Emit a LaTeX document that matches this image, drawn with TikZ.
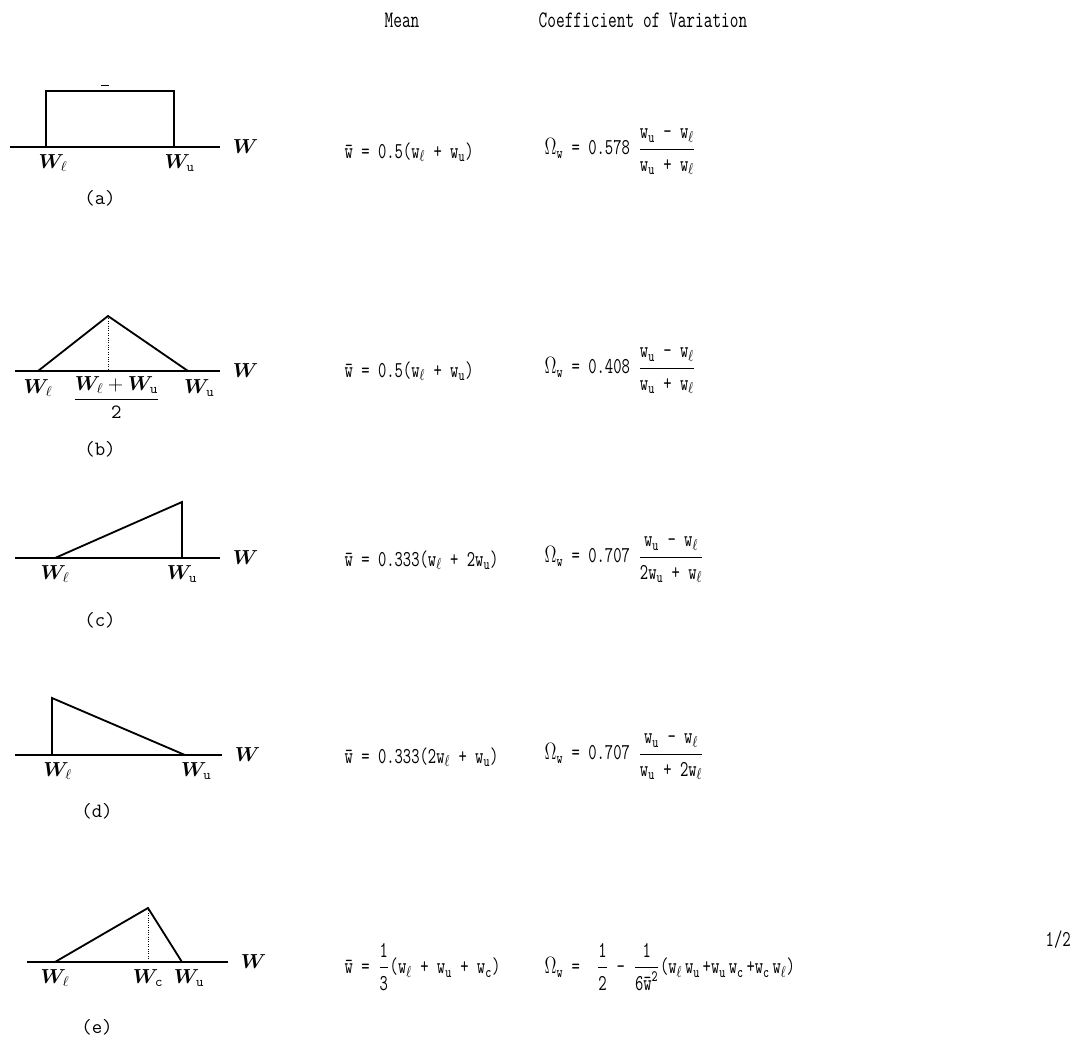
\documentclass[tikz,border=0pt]{standalone}
\usepackage{amsmath,bm,graphicx}
\usetikzlibrary{positioning}

\newcommand{\ws}[1]{w$_{#1}$}
\newcommand{\su}{\texttt{u}}
\newcommand{\scc}{\texttt{c}}
\newcommand{\mwbar}{\={w}}
\newcommand{\WW}{\bm{W}}
\newcommand{\ttfrac}[2]{$\dfrac{\text{\ttfamily #1}}{\text{\ttfamily #2}}$}
\newcommand{\tall}[1]{\scalebox{1}[1.4]{#1}}

\begin{document}
\begin{tikzpicture}[
        x=0.025cm, y=-0.025cm,
        axis/.style={line width=2.1pt},
        pdf/.style={line width=1.3pt, line join=miter},
        guide/.style={densely dotted, line width=0.7pt},
        var/.style={font=\Large, inner sep=1pt},
        tag/.style={font=\Large\ttfamily, inner sep=1pt},
        head/.style={font=\large\ttfamily, inner sep=1pt},
        formula/.style={font=\fontsize{11.5}{14}\selectfont\ttfamily, anchor=west, inner sep=1pt}
    ]
        \useasboundingbox (0,0) rectangle (1079,1040);
        % column heads
        \node[head] (mean) at (402,20) {\tall{Mean}};
        \node[head] (cov) at (643,20) {\tall{Coefficient of Variation}};

        % (a) uniform
        \coordinate (a0) at (10,147);
        \coordinate (a1) at (220,147);
        \coordinate (al) at (46,147);
        \coordinate (au) at (174,147);
        \coordinate (alt) at (46,91);
        \coordinate (aut) at (174,91);
        \coordinate (am0) at (101,85);
        \coordinate (am1) at (109,85);
        \draw[axis] (a0) -- (a1);
        \draw[pdf] (al) -- (alt) -- (aut) -- (au);
        \draw[line width=0.5pt] (am0) -- (am1);
        \node[var, right=8pt of a1] (aw) {$\WW$};
        \node[var, below=4pt of al, xshift=5pt] (alab) {$\WW_{\ell}$};
        \node[var, below=4pt of au, xshift=4pt] (aulab) {$\WW_{\mathtt{u}}$};
        \node[tag] (atag) at (100,198) {(a)};
        \node[formula] (amean) at (343,152) {\tall{\mwbar{} = 0.5(\ws{\ell} + \ws{\su})}};
        \node[formula] (acov) at (543,152) {\tall{$\Omega$$_{\texttt{w}}$ = 0.578 \ttfrac{w$_{\su}$ - w$_{\ell}$}{w$_{\su}$ + w$_{\ell}$}}};

        % (b) symmetric triangle
        \coordinate (b0) at (15,371);
        \coordinate (b1) at (220,371);
        \coordinate (bl) at (38,371);
        \coordinate (bu) at (188,371);
        \coordinate (bc) at (108,316);
        \coordinate (bm) at (108,371);
        \draw[axis] (b0) -- (b1);
        \draw[pdf] (bl) -- (bc) -- (bu);
        \draw[guide] (bc) -- (bm);
        \node[var, below=5pt of bl] (bllab) {$\WW_{\ell}$};
        \node[var, below=5pt of bu, xshift=8pt] (bulab) {$\WW_{\mathtt{u}}$};
        \node[var, below=3pt of bm, xshift=6pt] (bmlab) {$\dfrac{\WW_{\ell}+\WW_{\mathtt{u}}}{\mathtt{2}}$};
        \node[var, right=8pt of b1] (bw) {$\WW$};
        \node[tag] (btag) at (100,449) {(b)};
        \node[formula] (bmean) at (343,371) {\tall{\mwbar{} = 0.5(\ws{\ell} + \ws{\su})}};
        \node[formula] (bcov) at (543,371) {\tall{$\Omega$$_{\texttt{w}}$ = 0.408 \ttfrac{w$_{\su}$ - w$_{\ell}$}{w$_{\su}$ + w$_{\ell}$}}};

        % (c) right triangle, rising
        \coordinate (c0) at (15,558);
        \coordinate (c1) at (220,558);
        \coordinate (cl) at (55,558);
        \coordinate (cu) at (182,558);
        \coordinate (ct) at (182,502);
        \draw[axis] (c0) -- (c1);
        \draw[pdf] (cl) -- (ct) -- (cu);
        \node[var, right=8pt of c1] (cw) {$\WW$};
        \node[var, below=4pt of cl] (cllab) {$\WW_{\ell}$};
        \node[var, below=4pt of cu] (culab) {$\WW_{\mathtt{u}}$};
        \node[tag] (ctag) at (100,620) {(c)};
        \node[formula] (cmean) at (343,560) {\tall{\mwbar{} = 0.333(\ws{\ell} + 2\ws{\su})}};
        \node[formula] (ccov) at (543,560) {\tall{$\Omega$$_{\texttt{w}}$ = 0.707 \ttfrac{w$_{\su}$ - w$_{\ell}$}{2w$_{\su}$ + w$_{\ell}$}}};

        % (d) right triangle, falling
        \coordinate (d0) at (15,755);
        \coordinate (d1) at (222,755);
        \coordinate (dl) at (52,755);
        \coordinate (du) at (185,755);
        \coordinate (dt) at (52,698);
        \draw[axis] (d0) -- (d1);
        \draw[pdf] (dl) -- (dt) -- (du);
        \node[var, right=8pt of d1] (dw) {$\WW$};
        \node[var, below=4pt of dl, xshift=4pt] (dllab) {$\WW_{\ell}$};
        \node[var, below=4pt of du, xshift=8pt] (dulab) {$\WW_{\mathtt{u}}$};
        \node[tag] (dtag) at (97,811) {(d)};
        \node[formula] (dmean) at (343,757) {\tall{\mwbar{} = 0.333(2\ws{\ell} + \ws{\su})}};
        \node[formula] (dcov) at (543,757) {\tall{$\Omega$$_{\texttt{w}}$ = 0.707 \ttfrac{w$_{\su}$ - w$_{\ell}$}{w$_{\su}$ + 2w$_{\ell}$}}};

        % (e) general triangle
        \coordinate (e0) at (27,962);
        \coordinate (e1) at (228,962);
        \coordinate (el) at (55,962);
        \coordinate (eu) at (182,962);
        \coordinate (et) at (148,908);
        \coordinate (ec) at (148,962);
        \draw[axis] (e0) -- (e1);
        \draw[pdf] (el) -- (et) -- (eu);
        \draw[guide] (et) -- (ec);
        \node[var, right=8pt of e1] (ew) {$\WW$};
        \node[var, below=4pt of el] (ellab) {$\WW_{\ell}$};
        \node[var, below=4pt of ec] (eclab) {$\WW_{\mathtt{c}}$};
        \node[var, below=4pt of eu, xshift=5pt] (eulab) {$\WW_{\mathtt{u}}$};
        \node[tag] (etag) at (97,1027) {(e)};
        \node[formula] (emean) at (343,967) {\tall{\mwbar{} = \ttfrac{1}{3}(\ws{\ell} + \ws{\su} + \ws{\scc})}};
        \node[formula] (ecov) at (543,967) {\tall{$\Omega$$_{\texttt{w}}$ = \ \ttfrac{1}{2} - \ttfrac{1}{6\mwbar$^{\text{\ttfamily 2}}$}(\ws{\ell}\,\ws{\su}\,+\ws{\su}\,\ws{\scc}\,+\ws{\scc}\,\ws{\ell})}};
        \node[formula] (ehalf) at (1044,940) {\tall{1/2}};
\end{tikzpicture}
\end{document}
